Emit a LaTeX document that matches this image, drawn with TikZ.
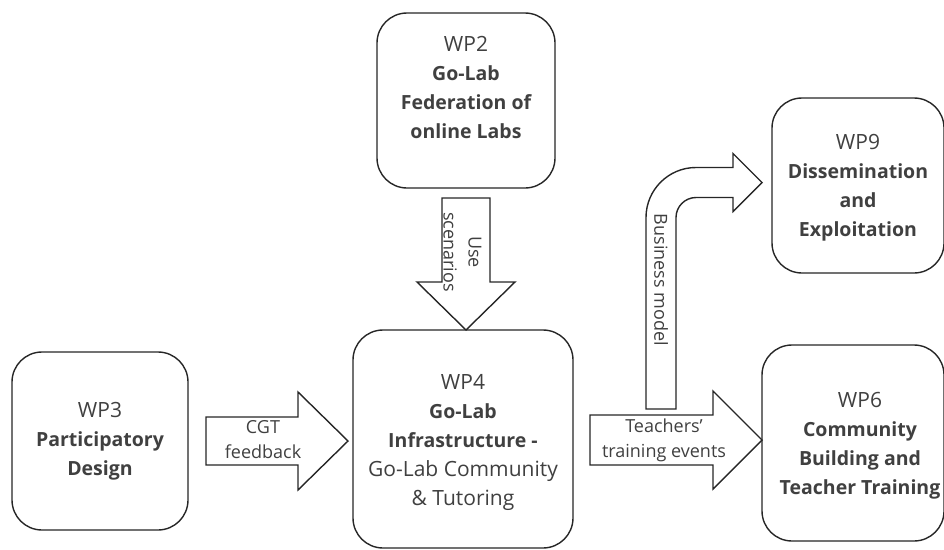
\documentclass[tikz,border=0pt]{standalone}
\usepackage{fontspec}
\setmainfont{Open Sans}
\definecolor{txt}{HTML}{404040}
\definecolor{ln}{HTML}{262626}
\newcommand\wpb[1]{{\fontsize{19.5}{29}\selectfont\bfseries #1}}
\begin{document}
\begin{tikzpicture}[x=1pt,y=-1pt,
 wpbox/.style={draw=ln, line width=1.4pt, rounded corners=30pt, fill=white, inner sep=0pt},
 wptext/.style={text=txt, align=center, inner sep=0pt, font=\fontsize{21}{29}\selectfont},
 blockarrow/.style={draw=ln, line width=1.4pt, fill=white, line join=miter},
 arrtext/.style={text=txt, align=center, inner sep=0pt, font=\fontsize{18}{25}\selectfont}]
\useasboundingbox (0,0) rectangle (944,549);
% boxes
\node[wpbox, minimum width=178pt, minimum height=175pt] (wp2) at (466,100.5) {};
\node[wptext] (t2) at (466,87) {WP2\\\wpb{Go-Lab}\\\wpb{Federation of}\\\wpb{online Labs}};
\node[wpbox, minimum width=176pt, minimum height=178pt] (wp3) at (100,441) {};
\node[wptext] (t3) at (100,441) {WP3\\\wpb{Participatory}\\\wpb{Design}};
\node[wpbox, minimum width=220pt, minimum height=218pt] (wp4) at (463,439) {};
\node[wptext] (t4) at (463,442) {WP4\\\wpb{Go-Lab}\\\wpb{Infrastructure -}\\Go-Lab Community\\\& Tutoring};
\node[wpbox, minimum width=172pt, minimum height=175pt] (wp9) at (858,185.5) {};
\node[wptext] (t9) at (858,188) {WP9\\\wpb{Dissemination}\\\wpb{and}\\\wpb{Exploitation}};
\node[wpbox, minimum width=182pt, minimum height=196pt] (wp6) at (853,443) {};
\node[wptext] (t6) at (860,446) {WP6\\\wpb{Community}\\\wpb{Building and}\\\wpb{Teacher Training}};
% block arrows
\draw[blockarrow] (442,198) -- (490,198) -- (490,282) -- (515,282) -- (466,330) -- (417,282) -- (442,282) -- cycle;
\node[arrtext, rotate=-90] (la) at (462.5,252) {Use\\scenarios};
\draw[blockarrow] (206,417) -- (298,417) -- (298,392) -- (348,441) -- (298,490) -- (298,465) -- (206,465) -- cycle;
\node[arrtext] (lb) at (263,440) {CGT\\feedback};
\draw[blockarrow] (590,415) -- (713,415) -- (713,391) -- (762,440) -- (713,489) -- (713,465) -- (590,465) -- cycle;
\node[arrtext] (lc) at (664,440) {Teachers’\\training events};
\draw[blockarrow] (646,409) -- (646,217.5) .. controls (646,189.9) and (668.4,167.5) .. (696,167.5) -- (733,167.5) -- (733,153.5) -- (762,182.5) -- (733,211.5) -- (733,197.5) -- (696,197.5) .. controls (685,197.5) and (676,206.5) .. (676,217.5) -- (676,409) -- cycle;
\node[arrtext, rotate=-90] (ld) at (661,280) {Business model};
\end{tikzpicture}
\end{document}
